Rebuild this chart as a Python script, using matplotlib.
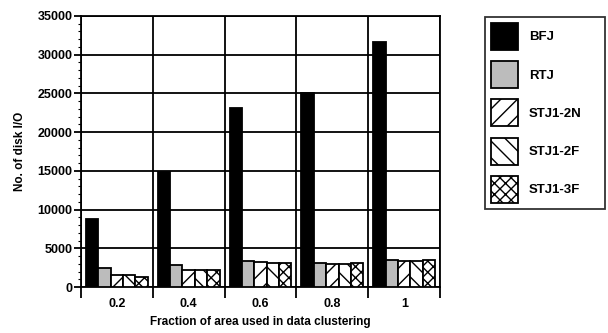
import numpy as np
import matplotlib
matplotlib.use("Agg")
import matplotlib.pyplot as plt
from matplotlib.patches import Patch
from matplotlib.ticker import MultipleLocator, FixedLocator

# values
fractions = ['0.2', '0.4', '0.6', '0.8', '1']
series = ['BFJ', 'RTJ', 'STJ1-2N', 'STJ1-2F', 'STJ1-3F']
bfj = [8800, 14900, 23100, 25000, 31600]
rtj = [2400, 2800, 3300, 3100, 3500]
stj_2n = [1550, 2200, 3200, 3000, 3400]
stj_2f = [1500, 2200, 3100, 2950, 3400]
stj_3f = [1350, 2200, 3100, 3100, 3500]

values = [bfj, rtj, stj_2n, stj_2f, stj_3f]
faces = ['black', '#bcbcbc', 'white', 'white', 'white']
hatches = [None, None, '//', '\\\\', 'xxx']

plt.rcParams['font.family'] = ['Liberation Sans', 'DejaVu Sans']
plt.rcParams['font.weight'] = 'bold'
plt.rcParams['axes.labelweight'] = 'bold'
plt.rcParams['hatch.linewidth'] = 1.0

fig = plt.figure(figsize=(6.08, 3.33), dpi=100)
ax = fig.add_axes([0.133, 0.138, 0.591, 0.814])

n = len(fractions)
width = 0.172
start = 0.07
for k, (vals, fc, h) in enumerate(zip(values, faces, hatches)):
    x = np.arange(n) + start + k * width
    ax.bar(x, vals, width=width, align='edge', color=fc, edgecolor='black',
           hatch=h, linewidth=1.3, zorder=3)

ax.set_xlim(0, n)
ax.set_ylim(0, 35000)
ax.yaxis.set_major_locator(MultipleLocator(5000))
ax.yaxis.set_minor_locator(MultipleLocator(1000))
ax.xaxis.set_major_locator(FixedLocator(np.arange(n) + 0.5))
ax.set_xticklabels(fractions)
ax.xaxis.set_minor_locator(FixedLocator(np.arange(n + 1)))
ax.tick_params(axis='x', which='major', length=0, pad=8, labelsize=9)
ax.tick_params(axis='x', which='minor', length=8, width=1.3, direction='out')
ax.tick_params(axis='y', which='major', length=5, width=1.3, labelsize=9, pad=1)
ax.tick_params(axis='y', which='minor', length=2, width=0.8)
plt.setp(ax.get_xticklabels() + ax.get_yticklabels(), fontweight='bold')

ax.grid(True, axis='y', which='major', color='black', linewidth=1.3, zorder=0)
ax.grid(True, axis='x', which='minor', color='black', linewidth=1.3, zorder=0)
for s in ax.spines.values():
    s.set_linewidth(1.3)

ax.set_ylabel('No. of disk I/O', fontsize=8.5, labelpad=8)
ax.set_xlabel('Fraction of area used in data clustering', fontsize=8.5, labelpad=4)

handles = [Patch(facecolor=fc, edgecolor='black', hatch=h, linewidth=1.3)
           for fc, h in zip(faces, hatches)]
leg = fig.legend(handles, series, loc='upper left',
                 bbox_to_anchor=(0.798, 0.949, 0.197, 0.0), mode='expand',
                 frameon=True, fancybox=False, edgecolor='black', fontsize=9.5,
                 handlelength=2.05, handleheight=2.77, labelspacing=0.85,
                 borderpad=0.45, handletextpad=0.8, borderaxespad=0)
leg.get_frame().set_linewidth(1.3)

fig.savefig('out.png', dpi=100)
